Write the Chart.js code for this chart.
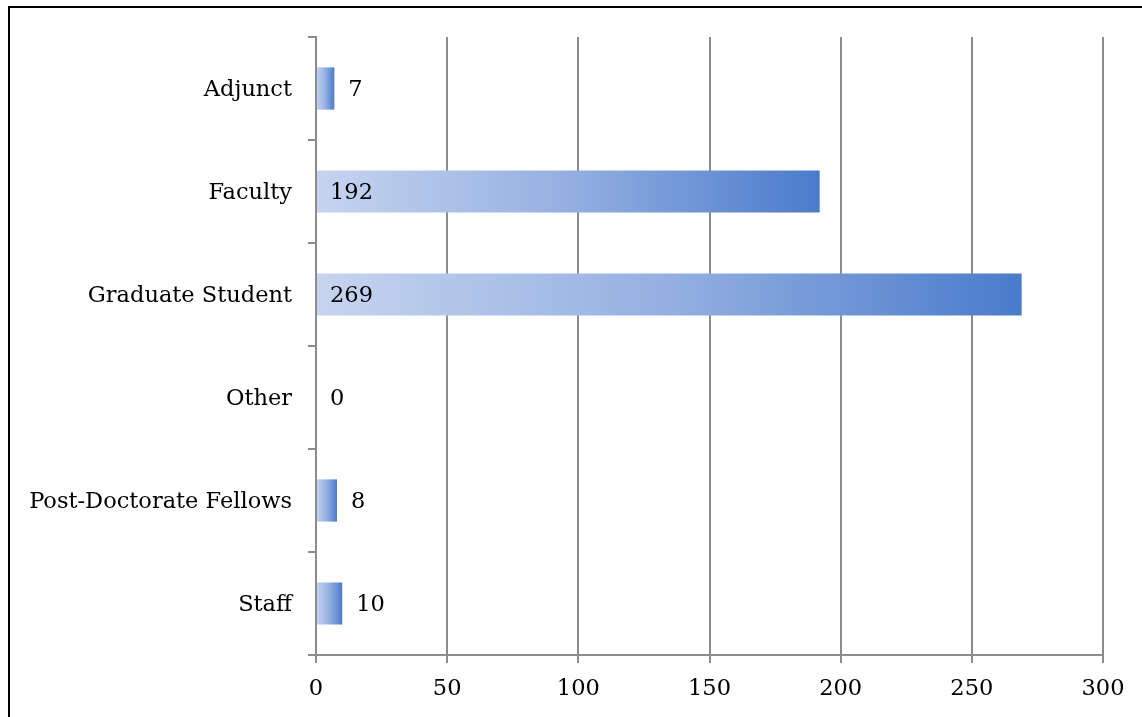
<!DOCTYPE html>
<html>
<head>
<meta charset="utf-8">
<script src="https://cdn.jsdelivr.net/npm/chart.js@4"></script>
<style>
    html, body { margin: 0; padding: 0; background: #fff; }
    #wrap { position: relative; width: 1142px; height: 717px; }
    #marco { position: absolute; left: 8px; top: 6px; right: -4px; bottom: -4px; border-left: 2px solid #000; border-top: 2px solid #000; }
    canvas { position: absolute; left: 0; top: 0; }
</style>
</head>
<body>
<div id="wrap">
    <div id="marco"></div>
    <canvas id="grafico" width="1142" height="717"></canvas>
</div>
<script>
const categorias = ['Adjunct', 'Faculty', 'Graduate Student', 'Other', 'Post-Doctorate Fellows', 'Staff'];
const valores = [7, 192, 269, 0, 8, 10];
const ticksX = [0, 50, 100, 150, 200, 250, 300];

const fuente = { family: '"DejaVu Serif", serif', size: 22.5 };

// Degradado por barra, de claro (base) a oscuro (extremo)
function colorBarra(context) {
    const chart = context.chart;
    const escala = chart.scales.x;
    if (!escala || !context.parsed) return '#7f9fdc';
    const x0 = escala.getPixelForValue(0);
    const x1 = escala.getPixelForValue(context.parsed.x);
    if (!isFinite(x0) || !isFinite(x1)) return '#7f9fdc';
    if (x1 - x0 < 1) return '#c6d4ef';
    const g = chart.ctx.createLinearGradient(x0, 0, x1, 0);
    g.addColorStop(0, '#c6d4ef');
    g.addColorStop(0.5, '#94b0e1');
    g.addColorStop(1, '#4a7bcc');
    return g;
}

// Etiquetas de datos: dentro en la base si cabe, si no al final
const etiquetas = {
    id: 'etiquetas',
    afterDatasetsDraw(chart) {
        const ctx = chart.ctx;
        const meta = chart.getDatasetMeta(0);
        ctx.save();
        ctx.font = fuente.size + 'px ' + fuente.family;
        ctx.fillStyle = '#000';
        ctx.textBaseline = 'middle';
        ctx.textAlign = 'left';
        meta.data.forEach((barra, i) => {
            const texto = String(valores[i]);
            const ancho = ctx.measureText(texto).width;
            const base = barra.base;
            if (barra.x - base > ancho + 30) {
                ctx.fillText(texto, base + 13, barra.y + 2);
            } else {
                ctx.fillText(texto, Math.max(barra.x, base) + 14, barra.y + 2);
            }
        });
        ctx.restore();
    }
};

new Chart(document.getElementById('grafico'), {
    type: 'bar',
    data: {
        labels: categorias,
        datasets: [{
            data: valores,
            backgroundColor: colorBarra,
            borderWidth: 0,
            barPercentage: 0.41,
            categoryPercentage: 1
        }]
    },
    options: {
        indexAxis: 'y',
        responsive: false,
        animation: false,
        devicePixelRatio: 1,
        layout: { padding: { top: 37, right: 39, left: 0, bottom: 0 } },
        plugins: { legend: { display: false }, tooltip: { enabled: false } },
        scales: {
            x: {
                min: 0,
                max: 300,
                afterBuildTicks(scale) {
                    scale.ticks = ticksX.map(v => ({ value: v }));
                },
                afterFit(scale) { scale.height = 62; },
                grid: { color: '#8c8c8c', lineWidth: 2, tickLength: 8 },
                border: { color: '#8c8c8c', width: 2 },
                ticks: { color: '#000', font: fuente, padding: 13 }
            },
            y: {
                afterFit(scale) { scale.width = 316; },
                grid: { display: true, drawOnChartArea: false, offset: true, color: '#8c8c8c', lineWidth: 2, tickLength: 8 },
                border: { color: '#8c8c8c', width: 2 },
                ticks: { color: '#000', font: fuente, padding: 16, labelOffset: 2 }
            }
        }
    },
    plugins: [etiquetas]
});
</script>
</body>
</html>
